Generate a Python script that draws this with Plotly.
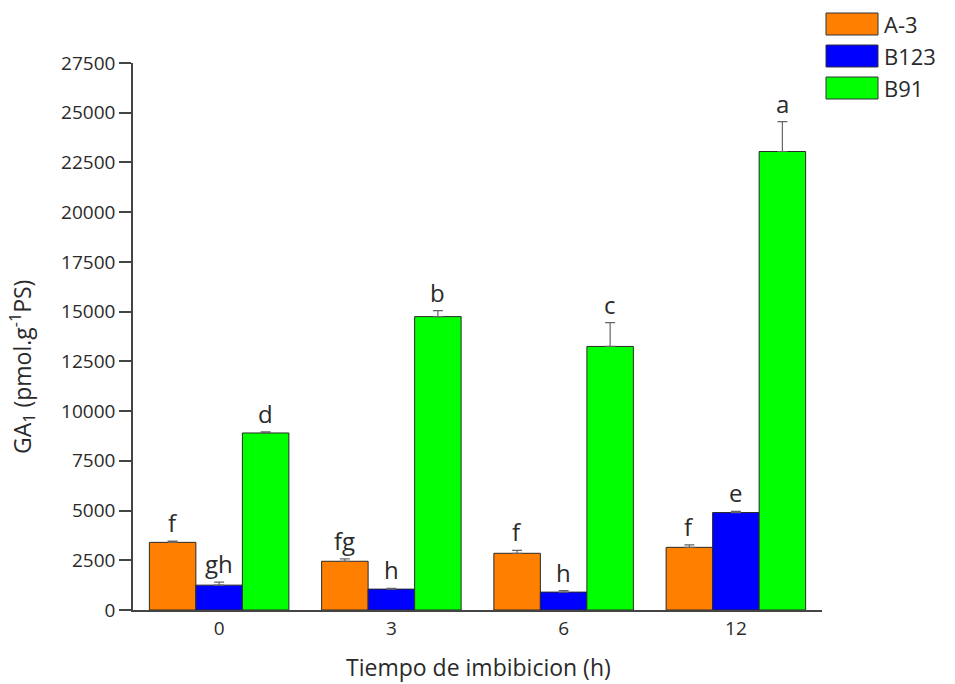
import plotly.graph_objects as go

# Imbibition times (h) and GA1 content per line
times = ["0", "3", "6", "12"]
series_names = ["A-3", "B123", "B91"]
a3_vals = [3400, 2450, 2850, 3150]
b123_vals = [1250, 1050, 900, 4900]
b91_vals = [8900, 14750, 13250, 23050]
a3_err = [60, 120, 150, 120]
b123_err = [150, 40, 80, 60]
b91_err = [60, 300, 1200, 1500]
a3_letters = ["f", "fg", "f", "f"]
b123_letters = ["gh", "h", "h", "e"]
b91_letters = ["d", "b", "c", "a"]
y_ticks = [0, 2500, 5000, 7500, 10000, 12500, 15000, 17500, 20000, 22500, 25000, 27500]
y_tick_text = [str(v) for v in y_ticks]

colors = ["#FF8000", "#0000FF", "#00FF00"]
values = [a3_vals, b123_vals, b91_vals]
errors = [a3_err, b123_err, b91_err]
letters = [a3_letters, b123_letters, b91_letters]

FONT = "Open Sans, Noto Sans, DejaVu Sans, sans-serif"
TXT = "#2a2a2a"

fig = go.Figure()
for name, vals, errs, col in zip(series_names, values, errors, colors):
    fig.add_trace(go.Bar(
        x=times, y=vals, name=name,
        marker=dict(color=col, line=dict(color="#2a2a2a", width=1)),
        error_y=dict(type="data", symmetric=False, array=errs,
                     arrayminus=[0] * len(errs), color="#666666",
                     thickness=1.2, width=5),
    ))

# Significance letters above each bar, positioned by the bar offset in its group
n = len(series_names)
group_width = 0.81
bar_w = group_width / n
annotations = []
for i, (vals, errs, labs) in enumerate(zip(values, errors, letters)):
    for j, (v, e, lab) in enumerate(zip(vals, errs, labs)):
        xpos = j - group_width / 2 + bar_w * (i + 0.5)
        annotations.append(dict(
            x=xpos, y=v + e, xref="x", yref="y", text=lab, showarrow=False,
            yanchor="bottom", yshift=0,
            font=dict(family=FONT, size=24, color=TXT),
        ))

# Legend drawn as boxed swatches at the top right
shapes = []
leg_top = 13
leg_step = 32
for k, (name, col) in enumerate(zip(series_names, colors)):
    y0 = leg_top + k * leg_step
    shapes.append(dict(type="rect", xref="paper", yref="paper",
                       x0=(826 - 133) / 689, x1=(878 - 133) / 689,
                       y0=1 - (y0 + 22 - 63) / 547, y1=1 - (y0 - 63) / 547,
                       fillcolor=col, line=dict(color="#333333", width=1)))
    annotations.append(dict(xref="paper", yref="paper",
                            x=(882 - 133) / 689, y=1 - (y0 + 11 - 63) / 547,
                            text=name, showarrow=False, xanchor="left", yanchor="middle",
                            font=dict(family=FONT, size=22, color=TXT)))

# Axis titles
annotations.append(dict(xref="paper", yref="paper", x=(22 - 133) / 689,
                        y=1 - (367 - 63) / 547, xanchor="center", yanchor="middle",
                        text="GA<sub>1</sub> (pmol.g<sup>-1</sup>PS)", textangle=-90,
                        showarrow=False, font=dict(family=FONT, size=23, color=TXT)))
annotations.append(dict(xref="paper", yref="paper", x=(478 - 133) / 689,
                        y=-(667 - 610) / 547, xanchor="center", yanchor="middle",
                        text="Tiempo de imbibicion (h)",
                        showarrow=False, font=dict(family=FONT, size=23, color=TXT)))

fig.update_layout(
    width=955, height=684,
    margin=dict(l=133, r=133, t=63, b=74),
    paper_bgcolor="white", plot_bgcolor="white",
    barmode="group", bargap=0.19, bargroupgap=0,
    showlegend=False,
    font=dict(family=FONT, color=TXT),
    annotations=annotations,
    shapes=shapes,
    xaxis=dict(
        type="category", range=[-0.5, 3.5],
        showline=True, linecolor="#444444", linewidth=1.5,
        ticks="", showgrid=False, zeroline=False,
        tickfont=dict(family=FONT, size=19, color=TXT),
    ),
    yaxis=dict(
        range=[0, 27500], tickvals=y_ticks, ticktext=y_tick_text,
        showline=True, linecolor="#444444", linewidth=1.5,
        ticks="outside", ticklen=12, tickcolor="#444444", tickwidth=1.5,
        showgrid=False, zeroline=False,
        tickfont=dict(family=FONT, size=19, color=TXT),
    ),
)

fig.write_html("out.html")
